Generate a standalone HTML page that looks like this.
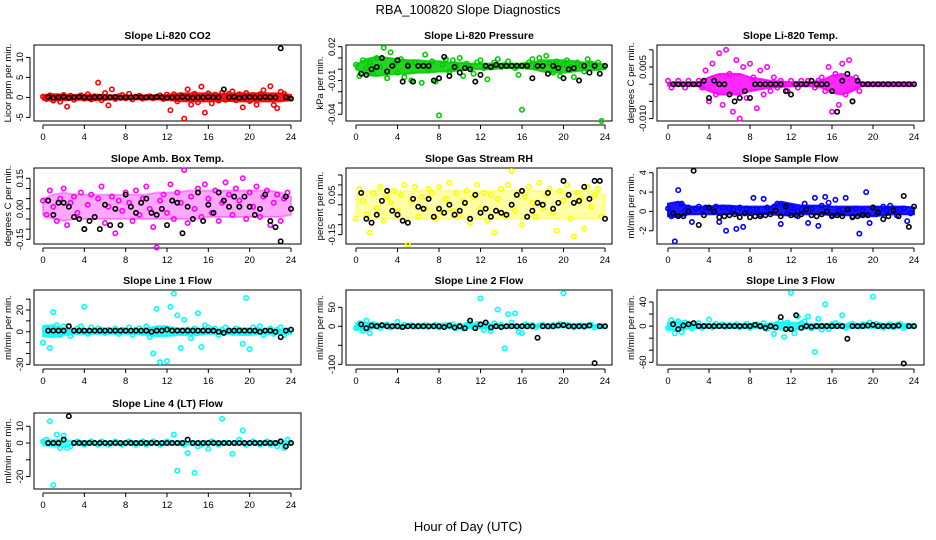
<!DOCTYPE html>
<html><head><meta charset="utf-8">
<style>
html,body{margin:0;padding:0;background:#fff;}
svg{display:block;font-family:"Liberation Sans",sans-serif;}
</style></head>
<body>
<svg id="chart" width="936" height="540" viewBox="0 0 936 540" xmlns="http://www.w3.org/2000/svg">
<rect x="0" y="0" width="936" height="540" fill="#fff"/>
<text x="468" y="14" font-size="13" text-anchor="middle">RBA_100820  Slope Diagnostics</text>
<text x="468" y="531" font-size="13" text-anchor="middle">Hour of Day (UTC)</text>
</svg>
<script>
// ---- data ----
const xTicks = [0,4,8,12,16,20,24];
const titles = ["Slope Li-820 CO2","Slope Li-820 Pressure","Slope Li-820 Temp.","Slope Amb. Box Temp.","Slope Gas Stream RH","Slope Sample Flow","Slope Line 1 Flow","Slope Line 2 Flow","Slope Line 3 Flow","Slope Line 4 (LT) Flow"];
const yLabels = ["Licor ppm per min.","kPa per min.","degrees C per min.","degrees C per min.","percent per min.","ml/min per min.","ml/min per min.","ml/min per min.","ml/min per min.","ml/min per min."];
const colors = ["#ff0000","#00cc00","#ff00ff","#ff00ff","#ffff00","#0000ff","#00ffff","#00ffff","#00ffff","#00ffff"];
const yTicks = [[-5,0,5,10],[-0.04,-0.03,-0.02,-0.01,0,0.01,0.02],[-0.010,-0.005,0,0.005,0.010],[-0.15,-0.10,-0.05,0,0.05,0.10,0.15],[-0.15,-0.10,-0.05,0,0.05,0.10,0.15],[-2,0,2,4],[-30,-20,-10,0,10,20,30],[-100,-50,0,50],[-60,-40,-20,0,20,40],[-20,-10,0,10]];
const yTickLabels = [["-5","0","5","10"],["-0.04","","","-0.01","","","0.02"],["-0.010","","","0.005",""],["-0.15","","","0.00","","","0.15"],["-0.15","","","","0.05","",""],["-2","0","2","4"],["-30","","","0","","20",""],["-100","","0","50"],["-60","","","0","","40"],["-20","","0","10"]];
const yMin = [-5.9,-0.046,-0.0107,-0.173,-0.197,-3.37,-30.6,-101.8,-64.5,-27.4];
const yMax = [13.1,0.0215,0.0114,0.2007,0.185,4.49,38.4,95.5,59.9,17.9];

// dense-core band envelopes, hourly 0..24
const bandLow0 = [-0.6,-0.8,-0.7,-0.6,-0.6,-0.7,-0.6,-0.5,-0.5,-0.5,-0.5,-0.5,-0.6,-0.9,-1.0,-1.0,-1.0,-0.9,-0.9,-1.0,-1.0,-1.0,-1.0,-1.0,-0.6];
const bandHigh0 = [0.6,0.8,0.7,0.6,0.6,0.7,0.6,0.5,0.5,0.5,0.5,0.5,0.6,0.9,1.0,1.0,1.0,0.9,0.9,1.0,1.0,1.0,1.0,1.0,0.6];
const bandLow1 = [0.000,-0.005,-0.006,-0.005,-0.004,-0.004,-0.003,-0.003,-0.002,-0.002,-0.001,0.000,0.000,0.000,0.001,0.001,0.001,0.000,-0.002,-0.003,-0.003,-0.002,-0.001,-0.001,0.000];
const bandHigh1 = [0.004,0.009,0.011,0.010,0.009,0.008,0.008,0.007,0.007,0.006,0.006,0.005,0.005,0.005,0.005,0.005,0.005,0.006,0.008,0.008,0.008,0.007,0.006,0.006,0.004];
const bandLow2 = [-0.0004,-0.0004,-0.0004,-0.0006,-0.002,-0.003,-0.003,-0.003,-0.002,-0.0015,-0.001,-0.0008,-0.0006,-0.0006,-0.0006,-0.001,-0.0025,-0.003,-0.002,-0.0003,-0.0003,-0.0003,-0.0003,-0.0003,-0.0003];
const bandHigh2 = [0.0004,0.0004,0.0004,0.0006,0.002,0.003,0.003,0.003,0.002,0.0015,0.001,0.0008,0.0006,0.0006,0.0006,0.001,0.0025,0.003,0.002,0.0003,0.0003,0.0003,0.0003,0.0003,0.0003];
const bandLow3 = [-0.03,-0.05,-0.06,-0.05,-0.05,-0.05,-0.05,-0.05,-0.05,-0.05,-0.05,-0.05,-0.05,-0.05,-0.05,-0.05,-0.04,-0.04,-0.04,-0.04,-0.04,-0.04,-0.04,-0.04,-0.03];
const bandHigh3 = [0.05,0.07,0.08,0.07,0.07,0.07,0.07,0.07,0.07,0.07,0.07,0.08,0.08,0.08,0.09,0.09,0.09,0.09,0.09,0.09,0.09,0.09,0.09,0.08,0.06];
const bandLow4 = [-0.05,-0.07,-0.07,-0.07,-0.07,-0.07,-0.07,-0.07,-0.07,-0.07,-0.07,-0.07,-0.07,-0.07,-0.07,-0.07,-0.07,-0.07,-0.07,-0.07,-0.07,-0.07,-0.07,-0.07,-0.05];
const bandHigh4 = [0.05,0.07,0.07,0.07,0.07,0.07,0.07,0.07,0.07,0.07,0.07,0.07,0.07,0.07,0.07,0.07,0.07,0.07,0.07,0.07,0.07,0.07,0.07,0.07,0.05];
const bandLow5 = [-0.5,-0.6,-0.3,-0.3,-0.3,-0.3,-0.3,-0.3,-0.3,-0.3,-0.3,-0.4,-0.4,-0.3,-0.3,-0.3,-0.4,-0.4,-0.4,-0.5,-0.5,-0.4,-0.3,-0.3,-0.3];
const bandHigh5 = [0.8,1.0,0.5,0.5,0.5,0.6,0.6,0.5,0.5,0.5,0.5,1.0,0.8,0.6,0.6,0.6,0.5,0.5,0.5,0.5,0.5,0.5,0.5,0.5,0.4];
const bandLow6 = [-4,-5,-3,-2,-2,-2,-2,-2,-2,-2,-3,-4,-4,-3,-3,-3,-2,-2,-2,-3,-3,-2,-2,-2,-2];
const bandHigh6 = [5,6,3,2,2,2,2,2,2,2,3,5,5,3,3,3,2,2,2,3,3,2,2,2,2];
const bandLow7 = [-8,-10,-4,-3,-3,-3,-3,-3,-3,-3,-4,-5,-5,-4,-4,-4,-3,-3,-3,-3,-3,-3,-3,-3,-3];
const bandHigh7 = [8,10,4,3,3,3,3,3,3,3,4,5,5,4,4,4,3,3,3,3,3,3,3,3,3];
const bandLow8 = [-6,-8,-4,-3,-3,-3,-3,-3,-3,-3,-4,-6,-6,-5,-4,-4,-3,-3,-3,-3,-3,-3,-3,-3,-3];
const bandHigh8 = [6,8,4,3,3,3,3,3,3,3,4,6,6,5,4,4,3,3,3,3,3,3,3,3,3];
const bandLow9 = [-1.5,-2,-2,-1,-0.8,-0.8,-0.8,-0.8,-0.8,-0.8,-0.8,-0.8,-1,-1,-1,-1,-0.8,-0.8,-0.8,-0.8,-0.8,-0.8,-0.8,-1,-1];
const bandHigh9 = [1.5,2,2,1,0.8,0.8,0.8,0.8,0.8,0.8,0.8,0.8,1,1,1,1,0.8,0.8,0.8,0.8,0.8,0.8,0.8,1,1];
const bandOpacity = [0.9,0.85,0.85,0.35,0.35,0.9,0.85,0.85,0.85,0.7];

const colored0 = [0.2,-0.4,0.5,-0.8,0.3,-1.1,0.6,-2.3,0.4,-0.6,0.2,0.5,-0.3,0.8,-0.5,0.3,3.7,-0.7,1.1,-2.0,2.0,-0.4,0.3,0.6,-0.2,0.9,-0.5,0.2,0.4,-0.3,0.1,0.3,-0.2,0.2,0.5,-0.4,0.7,-3.2,0.8,-1.0,0.6,-5.3,2.0,-1.8,0.9,-1.2,2.7,-3.8,1.0,-1.5,0.7,-0.8,1.2,-0.6,0.9,1.5,-0.7,0.8,-2.5,1.1,-0.9,0.6,-1.8,0.8,1.8,-0.5,2.8,-1.9,-2.7,1.4,0.9,-0.3];
const colored1 = [0.004,-0.006,0.008,0.001,0.006,-0.004,0.010,0.002,0.019,-0.008,0.015,0.004,-0.003,0.009,-0.007,0.005,-0.010,0.006,0.003,-0.012,0.013,0.000,0.007,-0.011,-0.041,0.004,0.009,-0.002,0.008,0.003,0.010,-0.006,0.005,0.002,-0.004,0.006,0.008,0.001,-0.009,0.003,0.006,0.009,0.002,0.004,0.007,0.003,0.001,-0.005,-0.036,0.004,0.006,0.009,0.002,0.010,0.003,0.012,0.005,-0.003,0.007,-0.006,0.004,0.008,0.002,-0.007,0.006,0.003,-0.002,0.009,0.005,0.004,0.006,-0.046];
const colored2 = [0.001,-0.001,0,0.001,0,-0.001,0.001,0,0,0.001,-0.001,0.004,-0.005,0.006,-0.003,0.009,-0.006,0.010,0.003,-0.008,0.007,-0.010,0.005,-0.004,0.006,0.002,-0.007,0.004,-0.003,0.005,-0.002,0.002,-0.001,0.001,0.000,-0.002,0.001,0,-0.001,0.001,0,0.001,0,-0.001,0.001,0.002,-0.002,0.005,-0.008,0.003,-0.006,0.006,-0.003,0.007,-0.005,0.002,-0.002,0,0,0,0,0,0,0,0,0,0,0,0,0,0,0];
const colored3 = [0.04,-0.03,0.09,0.01,-0.06,0.05,0.10,-0.08,0.03,0.06,-0.02,0.08,-0.10,0.02,0.07,-0.04,0.05,0.11,-0.07,0.01,0.06,-0.12,0.04,-0.01,0.08,0.03,-0.06,0.09,-0.03,0.05,0.11,0.00,-0.09,-0.19,0.04,0.07,-0.02,0.12,-0.05,0.08,0.03,0.19,-0.07,0.06,0.00,0.10,-0.04,0.12,0.05,-0.02,0.09,-0.06,0.03,0.13,0.07,-0.03,0.10,0.04,0.15,-0.05,0.08,0.01,0.11,-0.04,0.06,0.09,-0.08,0.03,0.07,-0.06,0.05,0.08];
const colored4 = [-0.07,0.08,0.02,-0.05,-0.14,0.06,-0.02,0.09,-0.08,0.04,0.01,0.07,-0.03,0.05,0.10,-0.20,0.02,0.09,-0.06,0.04,-0.02,0.08,0.06,-0.07,0.09,-0.04,0.03,0.11,-0.03,0.06,-0.05,0.02,0.07,-0.09,0.04,0.10,-0.02,0.06,-0.08,0.05,-0.14,0.03,0.08,-0.05,0.10,0.17,-0.03,0.06,-0.10,0.04,0.09,0.01,-0.06,0.11,-0.02,0.05,0.08,-0.04,-0.13,0.07,0.02,0.10,-0.07,-0.16,0.06,0.03,-0.12,0.09,-0.01,0.05,0.08,-0.06];
const colored5 = [0.3,-0.5,-3.1,2.2,0.8,0.1,0.4,-1.1,0.3,0.5,0.2,0.4,0.3,0.2,0.5,-1.1,0.4,-2.0,0.3,0.2,-1.8,0.4,-1.6,0.3,0.1,1.4,0.2,-0.3,1.3,0.4,0.2,0.5,0.8,-1.3,0.6,-0.2,0.4,0.3,-0.5,0.2,0.8,-1.2,0.3,1.4,-1.5,0.6,1.5,0.9,-0.4,1.2,0.1,-0.2,1.4,0.2,-0.5,0.3,-2.3,0.1,2.0,-1.2,0.4,-0.3,0.2,0.5,0.1,0.6,0.3,-0.4,0.2,0.3,-1.0,-0.2];
const colored6 = [-10,4,-15,18,6,-3,5,2,-4,1,3,5,23,-2,4,1,3,2,-1,2,0,3,-2,2,1,4,-3,2,3,-1,5,-5,-20,21,-28,3,-27,23,35,15,-15,11,2,-6,3,17,-14,6,4,2,3,-3,2,4,1,-1,3,2,-11,31,-16,4,2,5,-3,1,3,-2,2,4,-3,1];
const colored7 = [-5,8,-12,15,-18,6,3,-4,2,5,-3,1,12,-2,4,1,3,-1,2,0,3,-2,1,4,-3,2,3,-1,5,-5,2,-6,4,8,-3,6,73,-10,5,-13,8,44,4,-58,32,10,34,-15,-18,5,2,3,-3,2,4,1,-1,3,2,6,87,4,2,-3,1,3,-2,2,4,-3,1,0];
const colored8 = [-3,10,-12,8,-10,6,3,-4,2,5,-3,1,11,-2,4,1,3,-1,2,0,3,-2,1,4,-3,2,3,-1,5,-5,2,-13,4,8,-18,6,55,-12,16,5,8,16,-4,-43,12,-6,36,-5,3,5,2,18,-3,2,4,1,-1,3,2,6,49,4,2,-3,1,3,-2,2,4,-3,1,0];
const colored9 = [1,2,13,-25,5,-3,4.5,-3,-2,0,1,0,-1,0,1,0,-1,1,0,-1,0,1,0,-1,0,1,0,-1,0,1,-1,0,1,0,-1,0,1,0,5,-16.5,0,-1,-6,0,-17.7,-2,-1,0,-3.5,1,0,-1,14.5,0,0,-6.5,0,2,7.5,-1,0,1,0,-1,0,1,-1,0,-2,1,-3,2];

const black0 = [0.1,-0.1,0,0.1,-0.1,0,0.1,0,-0.1,0,0.1,0,0,0.1,-0.1,0,0,0.1,0,0,0,0.1,0,-0.1,0,0,0.1,0,-0.1,0,0,0.1,0,0,2.0,0,0.1,-0.1,0,0.1,0,0,0.1,0,0,12.3,0,-0.3];
const black1 = [-0.004,-0.005,0,0.002,0.010,-0.002,0.003,0.008,-0.011,0.003,-0.011,0.003,0.003,0.003,-0.010,-0.008,0.011,-0.006,0.002,-0.003,0.001,0,-0.011,-0.005,0.003,0.002,0.004,0.003,0.003,0.003,0.003,0.003,0.003,-0.008,0.003,0.003,-0.004,0.003,0.001,-0.008,0.000,0.001,-0.010,0.003,-0.003,0.003,-0.004,0.003];
const black2 = [0,0,0,0,0,0,0.001,-0.004,0.001,0,0,-0.003,-0.005,-0.004,-0.002,-0.004,0,0,0,0,0,0,-0.002,-0.003,0,0,0,0.001,0,0,0,-0.002,-0.008,0.001,0.003,-0.005,0.001,0,0,0,0,0,0,0,0,0,0,0];
const black3 = [0.04,-0.03,0.03,0.03,0.01,-0.04,-0.05,-0.10,-0.06,-0.04,-0.10,0.02,-0.08,0.00,-0.08,0.07,0.01,-0.02,0.03,0.05,-0.02,-0.03,0.00,-0.08,0.04,0.03,-0.12,0.01,-0.05,0.08,-0.06,0.02,-0.02,0.08,0.04,0.01,0.06,0.01,0.06,0.01,-0.03,0.00,0.07,-0.06,-0.09,-0.16,0.06,0.00];
const black4 = [0.06,-0.07,-0.09,-0.05,0.02,0.07,-0.03,-0.05,-0.08,-0.09,0.03,-0.01,-0.02,0.03,-0.06,-0.02,-0.04,0.00,-0.05,-0.03,0.01,-0.07,0.05,-0.04,-0.02,-0.06,-0.03,-0.04,-0.05,0.00,0.05,0.07,-0.06,-0.03,0.01,0.00,0.06,-0.02,0.01,0.12,0.05,0.01,0.02,0.09,0.03,0.12,0.12,-0.07];
const black5 = [-0.2,-0.5,-0.5,0.0,4.2,-1.4,-0.4,0.4,0.0,-0.6,-0.5,-0.4,-0.3,-0.6,-0.2,-0.6,-0.5,-0.5,-0.4,-0.3,0.1,-0.5,0.5,-0.4,-0.4,-0.3,0.2,-0.4,-0.5,-0.3,0.0,-0.5,-0.4,-0.5,0.2,-0.6,-0.5,-0.4,-0.4,0.4,-0.1,-0.8,-0.5,0.1,-0.5,1.6,-1.6,0.5];
const black6 = [1,1,1,1,5,1,1,1,1,1,1,1,1,1,1,1,1,1,1,1,0,1,1,2,1,1,1,1,1,1,1,1,1,0,-1,1,1,1,1,1,1,0,1,1,0,-5,1,2];
const black7 = [5,-5,2,0,3,0,0,0,-2,0,0,0,0,0,0,0,-2,2,-3,0,-5,15,-5,5,10,-3,0,-2,0,0,0,0,0,0,-30,0,0,0,2,3,0,0,0,0,2,-97,0,0];
const black8 = [3,-5,1,3,5,0,0,0,0,0,0,0,0,0,0,0,2,0,-3,0,-2,15,-5,-5,18,-3,0,-1,0,0,0,0,0,0,-21,0,0,0,1,2,0,0,0,0,1,-62,0,0];
const black9 = [0,0,0,2,16,0,0,0,0,0,0,0,0,0,0,0,0,0,0,0,0,0,0,0,0,0,0,2,0,0,0,0,0,0,0,0,0,0,0,0,0,0,0,0,0,1,-2,0];

const coloredSeries = [colored0,colored1,colored2,colored3,colored4,colored5,colored6,colored7,colored8,colored9];
const blackSeries = [black0,black1,black2,black3,black4,black5,black6,black7,black8,black9];
const bandLows = [bandLow0,bandLow1,bandLow2,bandLow3,bandLow4,bandLow5,bandLow6,bandLow7,bandLow8,bandLow9];
const bandHighs = [bandHigh0,bandHigh1,bandHigh2,bandHigh3,bandHigh4,bandHigh5,bandHigh6,bandHigh7,bandHigh8,bandHigh9];

// ---- layout ----
const colBox = [[34,301,43,291],[346,612,356,605],[657,924,668,914]];
const rowBox = [[45,121],[168,244],[290,365],[413,489]];
const NS = "http://www.w3.org/2000/svg";
const svg = document.getElementById("chart");
function mk(tag, attrs, parent){
  const e = document.createElementNS(NS, tag);
  for (const k in attrs) e.setAttribute(k, attrs[k]);
  (parent||svg).appendChild(e);
  return e;
}

for (let p = 0; p < 10; p++) {
  const c = p % 3, r = Math.floor(p / 3);
  const [L, R, X0, X24] = colBox[c];
  const [T, B] = rowBox[r];
  const g = mk("g", {});
  
  
  const xs = v => X0 + (X24 - X0) * v / 24;
  const ys = v => B - (B - T) * (v - yMin[p]) / (yMax[p] - yMin[p]);

  const tt = mk("text", {x:(L+R)/2, y:T-6, "font-size":"10.5", "font-weight":"bold", "text-anchor":"middle"}, g);
  tt.textContent = titles[p];
  
  

  // dense band
  const lo = bandLows[p], hi = bandHighs[p];
  const n = hi.length - 1;
  let pts = [];
  hi.forEach((v, i) => pts.push(xs(i * 24 / n).toFixed(1) + "," + ys(v).toFixed(1)));
  for (let i = lo.length - 1; i >= 0; i--) pts.push(xs(i * 24 / n).toFixed(1) + "," + ys(lo[i]).toFixed(1));
  const band = mk("polygon", {points:pts.join(" "), fill:colors[p], "fill-opacity":bandOpacity[p], stroke:colors[p], "stroke-opacity":bandOpacity[p], "stroke-width":"2"}, g);
  
  

  const box = mk("rect", {x:L, y:T, width:R-L, height:B-T, fill:"none", stroke:"#000", "stroke-width":"1"}, g);
  
  

  const xa = mk("g", {}, g);
  
  
  mk("line", {x1:xs(xTicks[0]), x2:xs(xTicks[xTicks.length-1]), y1:B+4, y2:B+4, stroke:"#000"}, xa);
  xTicks.forEach(v => {
    mk("line", {x1:xs(v), x2:xs(v), y1:B+4, y2:B+8, stroke:"#000"}, xa);
    const t = mk("text", {x:xs(v), y:B+19, "font-size":"9.5", "text-anchor":"middle"}, xa);
    t.textContent = v;
    
    
  });

  const ya = mk("g", {}, g);
  
  
  const yt = yTicks[p];
  mk("line", {x1:L-4, x2:L-4, y1:ys(yt[0]), y2:ys(yt[yt.length-1]), stroke:"#000"}, ya);
  yt.forEach((v, i) => {
    mk("line", {x1:L-4, x2:L-8, y1:ys(v), y2:ys(v), stroke:"#000"}, ya);
    if (yTickLabels[p][i]) {
      const t = mk("text", {x:0, y:0, "font-size":"9.5", "text-anchor":"middle", transform:`translate(${L-11},${ys(v)}) rotate(-90)`}, ya);
      t.textContent = yTickLabels[p][i];
      
      
    }
  });
  const yl = mk("text", {x:0, y:0, "font-size":"9.5", "text-anchor":"middle", transform:`translate(${L-23},${(T+B)/2}) rotate(-90)`}, ya);
  yl.textContent = yLabels[p];
  
  

  const cs = mk("g", {fill:"none", stroke:colors[p], "stroke-width":"1.6"}, g);
  
  
  const cd = coloredSeries[p];
  cd.forEach((v, i) => {
    const pt = mk("circle", {cx:xs(i * 24 / cd.length), cy:ys(v), r:"2.2"}, cs);
    
    
  });
  const bs = mk("g", {fill:"none", stroke:"#000", "stroke-width":"1.6"}, g);
  
  
  blackSeries[p].forEach((v, i) => {
    const pt = mk("circle", {cx:xs((i + 1) * 0.5), cy:ys(v), r:"2.2"}, bs);
    
    
  });
}
</script>
</body></html>
